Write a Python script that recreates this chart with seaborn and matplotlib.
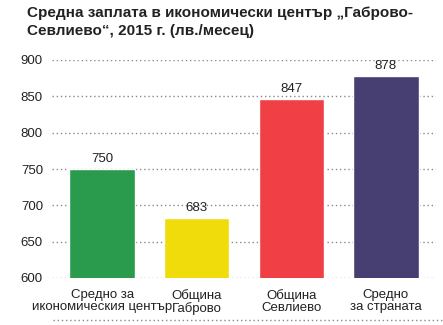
import matplotlib
matplotlib.use("Agg")
import matplotlib.pyplot as plt
from matplotlib.lines import Line2D
from matplotlib import font_manager
import seaborn as sns
import pandas as pd

categories = ["Средно за\nикономическия център", "Община\nГаброво", "Община\nСевлиево", "Средно\nза страната"]
values = [750, 683, 847, 878]
colors = ["#2a9a4c", "#f0dc0a", "#f04045", "#473f72"]
yticks = [600, 650, 700, 750, 800, 850, 900]
title = "Средна заплата в икономически център „Габрово-\nСевлиево“, 2015 г. (лв./месец)"

sns.set_style("white")
names = {f.name for f in font_manager.fontManager.ttflist}
narrow = "Liberation Sans Narrow" if "Liberation Sans Narrow" in names else None
plt.rcParams['font.family'] = ['Liberation Sans', 'DejaVu Sans']
label_family = [narrow, 'Liberation Sans'] if narrow else ['Liberation Sans']
label_size = 11 if narrow else 9.5

df = pd.DataFrame({"cat": categories, "val": values})

fig = plt.figure(figsize=(4.43, 3.25), dpi=100)
ax = fig.add_axes([52/443, 1 - 278/325, (436 - 52)/443, (278 - 60)/325])

sns.barplot(data=df, x="cat", y="val", hue="cat", palette=colors, legend=False,
            width=0.69, ax=ax, zorder=3, saturation=1)

ax.set_ylim(600, 900)
ax.set_xlim(-0.53, 3.53)
ax.set_yticks(yticks)
ax.yaxis.grid(True, linestyle=(0, (1, 2)), color="#8a8a8a", linewidth=1, zorder=0)
ax.set_axisbelow(True)
for s in ax.spines.values():
    s.set_visible(False)
ax.tick_params(axis="both", length=0, labelsize=10, colors="#222222")
ax.tick_params(axis="y", pad=6.5)
ax.tick_params(axis="x", pad=8)
ax.set_xlabel("")
ax.set_ylabel("")
for lbl in ax.get_xticklabels():
    lbl.set_fontsize(label_size)
    lbl.set_family(label_family)
    lbl.set_linespacing(1.0)
for lbl in ax.get_yticklabels():
    lbl.set_family(label_family)
    lbl.set_fontsize(label_size)

for i, v in enumerate(values):
    ax.text(i, v + 5, str(v), ha="center", va="bottom", fontsize=label_size,
            family=label_family, color="#222222")

fig.text(27/443, 1 - 6/325, title, ha="left", va="top", fontsize=11,
         fontweight="bold", color="#222222", linespacing=1.35)

fig.add_artist(Line2D([53/443, 1.0], [1 - 320/325, 1 - 320/325], transform=fig.transFigure,
                      linestyle=(0, (1, 2)), color="#8a8a8a", linewidth=1))

fig.savefig("out.png", dpi=100)
